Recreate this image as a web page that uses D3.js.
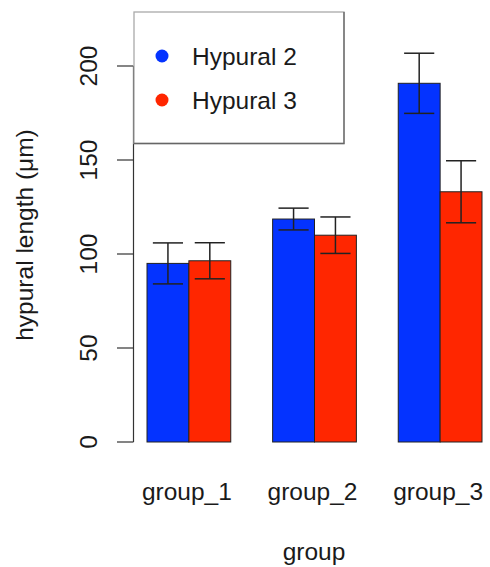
<!DOCTYPE html>
<html>
<head>
<meta charset="utf-8">
<script src="https://cdn.jsdelivr.net/npm/d3@7"></script>
<style>
  html, body { margin: 0; padding: 0; background: #fff; }
  svg text { font-family: "Liberation Sans", Arial, sans-serif; fill: #1a1a1a; }
</style>
</head>
<body>
<div id="chart"></div>
<script>
// data
const groups = ["group_1", "group_2", "group_3"]
const series = ["Hypural 2", "Hypural 3"]
const hyp2Means = [95, 118.6, 190.8]
const hyp2Err = [10.9, 5.8, 16]
const hyp3Means = [96.4, 110, 133.1]
const hyp3Err = [9.6, 9.7, 16.5]
const yTicks = [0, 50, 100, 150, 200]

const colors = ["#0433ff", "#ff2600"]

const width = 490, height = 567
const fontSize = 24.5

// rows for the bars
const data = []
groups.forEach((g, i) => {
    data.push({ group: g, series: series[0], mean: hyp2Means[i], se: hyp2Err[i] })
    data.push({ group: g, series: series[1], mean: hyp3Means[i], se: hyp3Err[i] })
})

const svg = d3.select("#chart").append("svg")
    .attr("width", width)
    .attr("height", height)

// scales
const x0 = d3.scaleBand()
    .domain(groups)
    .range([147, 482])
    .paddingInner(1 / 3)
    .paddingOuter(0)

const x1 = d3.scaleBand()
    .domain(series)
    .range([0, x0.bandwidth()])

const y = d3.scaleLinear()
    .domain([0, 200])
    .range([442, 66])

const color = d3.scaleOrdinal().domain(series).range(colors)

// y axis, R style: line only over the tick range
const axisX = 133.5
svg.append("line")
    .attr("x1", axisX).attr("x2", axisX)
    .attr("y1", y(0)).attr("y2", y(200))
    .attr("stroke", "#333").attr("stroke-width", 1.2)

svg.selectAll(".ytick")
    .data(yTicks)
    .enter().append("line")
    .attr("class", "ytick")
    .attr("x1", 117).attr("x2", axisX)
    .attr("y1", d => y(d)).attr("y2", d => y(d))
    .attr("stroke", "#333").attr("stroke-width", 1.2)

svg.selectAll(".ylabel")
    .data(yTicks)
    .enter().append("text")
    .attr("class", "ylabel")
    .attr("transform", d => `translate(97,${y(d)}) rotate(-90)`)
    .attr("text-anchor", "middle")
    .style("font-size", fontSize + "px")
    .text(d => d)

// bars
const bars = svg.append("g")
    .selectAll("g")
    .data(data)
    .enter().append("g")
    .attr("transform", d => `translate(${x0(d.group) + x1(d.series)},0)`)

bars.append("rect")
    .attr("x", 0)
    .attr("y", d => y(d.mean))
    .attr("width", x1.bandwidth())
    .attr("height", d => y(0) - y(d.mean))
    .attr("fill", d => color(d.series))
    .attr("stroke", "#222")
    .attr("stroke-width", 1)

// error bars
const capHalf = x1.bandwidth() * 0.36
const mid = x1.bandwidth() / 2
bars.append("line")
    .attr("x1", mid).attr("x2", mid)
    .attr("y1", d => y(d.mean + d.se)).attr("y2", d => y(d.mean - d.se))
    .attr("stroke", "#222").attr("stroke-width", 1.5)
bars.append("line")
    .attr("x1", mid - capHalf).attr("x2", mid + capHalf)
    .attr("y1", d => y(d.mean + d.se)).attr("y2", d => y(d.mean + d.se))
    .attr("stroke", "#222").attr("stroke-width", 1.5)
bars.append("line")
    .attr("x1", mid - capHalf).attr("x2", mid + capHalf)
    .attr("y1", d => y(d.mean - d.se)).attr("y2", d => y(d.mean - d.se))
    .attr("stroke", "#222").attr("stroke-width", 1.5)

// group labels
svg.selectAll(".xlabel")
    .data(groups)
    .enter().append("text")
    .attr("class", "xlabel")
    .attr("x", d => x0(d) + x0.bandwidth() / 2 - 2)
    .attr("y", 500)
    .attr("text-anchor", "middle")
    .style("font-size", fontSize + "px")
    .text(d => d)

// axis titles
svg.append("text")
    .attr("x", 314)
    .attr("y", 560)
    .attr("text-anchor", "middle")
    .style("font-size", fontSize + "px")
    .text("group")

svg.append("text")
    .attr("transform", "translate(33,235) rotate(-90)")
    .attr("text-anchor", "middle")
    .style("font-size", fontSize + "px")
    .text("hypural length (μm)")

// legend
const legend = svg.append("g")
legend.append("rect")
    .attr("x", 134).attr("y", 12)
    .attr("width", 210).attr("height", 131.5)
    .attr("fill", "#fff")
    .attr("stroke", "#aaa")
    .attr("stroke-width", 1.3)
legend.append("path")
    .attr("d", "M344,12V143.5H134")
    .attr("fill", "none")
    .attr("stroke", "#666")
    .attr("stroke-width", 1.3)

const legendRows = legend.selectAll(".lrow")
    .data(series)
    .enter().append("g")
    .attr("class", "lrow")
    .attr("transform", (d, i) => `translate(0,${56 + i * 44})`)

legendRows.append("circle")
    .attr("cx", 162).attr("cy", 0)
    .attr("r", 6.5)
    .attr("fill", d => color(d))

legendRows.append("text")
    .attr("x", 192).attr("y", 9)
    .style("font-size", fontSize + "px")
    .text(d => d)
</script>
</body>
</html>
